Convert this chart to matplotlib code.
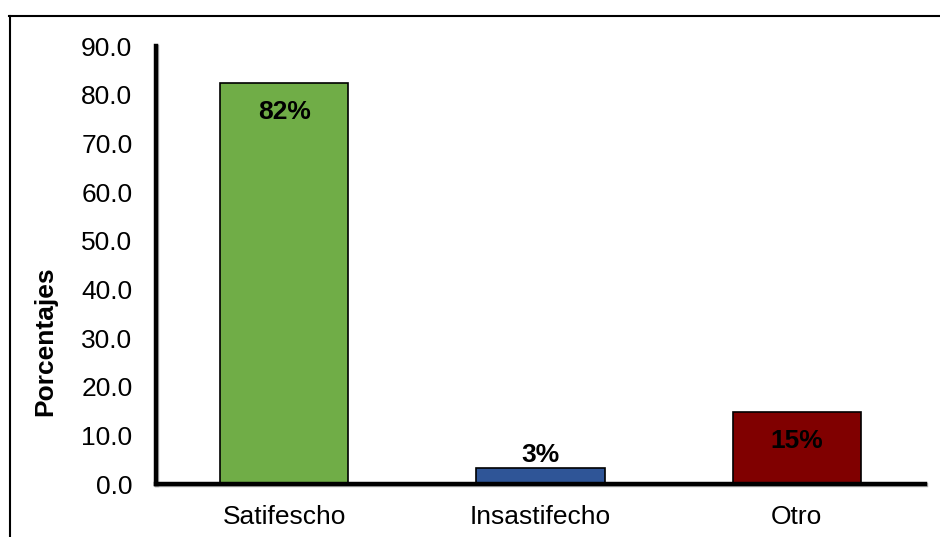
import matplotlib
matplotlib.use("Agg")
import matplotlib.pyplot as plt
from matplotlib.lines import Line2D
import matplotlib.patheffects as pe

categories = ["Satifescho", "Insastifecho", "Otro"]
values = [82.3, 3.3, 14.8]
labels = ["82%", "3%", "15%"]
colors = ["#70AD47", "#2F5597", "#800000"]
yticks = [0, 10, 20, 30, 40, 50, 60, 70, 80, 90]

plt.rcParams['font.family'] = ['Liberation Sans', 'DejaVu Sans']

fig = plt.figure(figsize=(9.4, 5.37), dpi=100)
ax = fig.add_axes([156/940, 1-484/537, (925-156)/940, (484-46)/537])

x = list(range(len(categories)))
bars = ax.bar(x, values, width=0.5, color=colors, edgecolor="black", linewidth=1.2, zorder=2)

ax.set_xlim(-0.5, 2.5)
ax.set_ylim(0, 90)
ax.set_yticks(yticks)
ax.set_yticklabels([f"{v:.1f}" for v in yticks], fontsize=19)
ax.set_xticks(x)
ax.set_xticklabels(categories, fontsize=19)
ax.tick_params(axis='y', length=0, pad=17)
ax.tick_params(axis='x', length=0, pad=15)

for s in ["top", "right"]:
    ax.spines[s].set_visible(False)
for s in ["left", "bottom"]:
    ax.spines[s].set_linewidth(3.2)
    ax.spines[s].set_color("black")
    ax.spines[s].set_path_effects([pe.SimpleLineShadow(offset=(1, -1), shadow_color="gray", alpha=0.6), pe.Normal()])
ax.spines["left"].set_zorder(3)
ax.spines["bottom"].set_zorder(3)

# y-axis title placed as in the reference (lower than the axis centre)
fig.text(45/940, 1-341/537, "Porcentajes", rotation=90, ha="center", va="center",
         fontsize=19, fontweight="bold")

for xi, v, lab in zip(x, values, labels):
    if v > 10:
        ax.annotate(lab, (xi, v), xytext=(0, -29), textcoords="offset pixels",
                    ha="center", va="center", fontsize=19, fontweight="bold", color="black")
    else:
        ax.annotate(lab, (xi, v), xytext=(0, 1), textcoords="offset pixels",
                    ha="center", va="bottom", fontsize=19, fontweight="bold", color="black")

# outer frame (top and left only, as cropped)
fig.add_artist(Line2D([9/940, 1.0], [1-16/537, 1-16/537], transform=fig.transFigure, color="black", linewidth=1.5))
fig.add_artist(Line2D([10/940, 10/940], [0, 1-16/537], transform=fig.transFigure, color="black", linewidth=1.5))

fig.savefig("out.png", dpi=100)
